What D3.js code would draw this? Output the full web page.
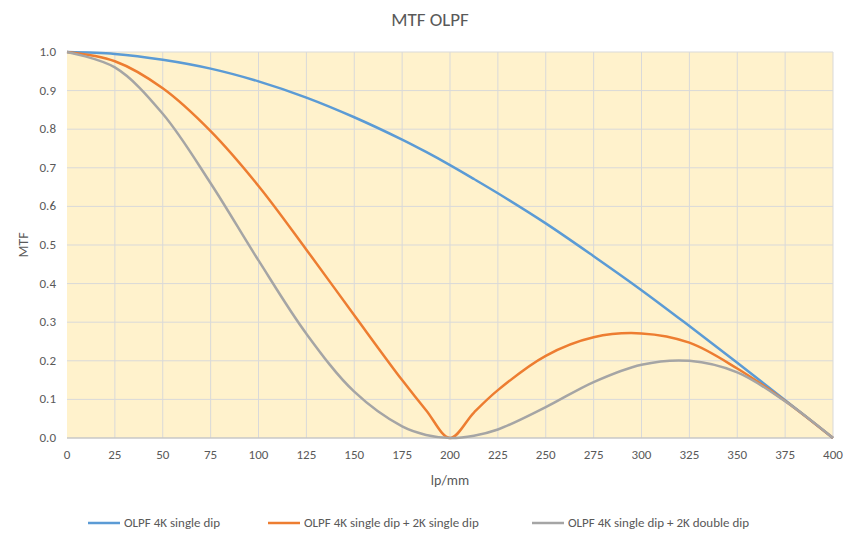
<!DOCTYPE html><html><head><meta charset="utf-8">
<script src="https://cdn.jsdelivr.net/npm/d3@7"></script>
<style>body{margin:0;background:#fff;font-family:Calibri,Carlito,"Liberation Sans",Arial,sans-serif}</style></head><body>
<svg id="c" width="860" height="552"></svg>
<script>
const xs=[0,25,50,75,100,125,150,175,187.5,200,212.5,225,250,275,300,325,350,375,400];
const blue=[1,0.995,0.98,0.957,0.924,0.882,0.831,0.773,0.741,0.707,0.671,0.634,0.556,0.471,0.383,0.290,0.195,0.098,0];
const orange=[1,0.976,0.906,0.795,0.653,0.488,0.318,0.150,0.072,0,0.066,0.124,0.213,0.261,0.271,0.247,0.180,0.096,0];
const gray=[1,0.96,0.84,0.66,0.46,0.27,0.12,0.03,0.008,0,0.006,0.022,0.08,0.145,0.19,0.20,0.17,0.095,0];
const seriesNames=["OLPF 4K single dip","OLPF 4K single dip + 2K single dip","OLPF 4K single dip + 2K double dip"];
const colors=["#5b9bd5","#ed7d31","#a5a5a5"];
const xTicks=d3.range(0,401,25), yTicks=d3.range(0,1.01,0.1);
const svg=d3.select("#c");
const x=d3.scaleLinear().domain([0,400]).range([67,833]);
const y=d3.scaleLinear().domain([0,1]).range([438,52]);
svg.append("rect").attr("x",67).attr("y",52).attr("width",766).attr("height",386).attr("fill","#fff2cc");
const g=svg.append("g").attr("stroke","#d9d9d9").attr("stroke-width",1);
xTicks.forEach(t=>{if(t>0)g.append("line").attr("x1",x(t)).attr("x2",x(t)).attr("y1",52).attr("y2",438);});
yTicks.forEach(t=>g.append("line").attr("x1",67).attr("x2",833).attr("y1",y(t)).attr("y2",y(t)));
svg.append("line").attr("x1",67).attr("x2",833).attr("y1",438).attr("y2",438).attr("stroke","#bfbfbf");
xTicks.forEach(t=>svg.append("text").attr("x",x(t)).attr("y",459).attr("text-anchor","middle").attr("font-size",13).attr("fill","#595959").text(t));
yTicks.forEach(t=>svg.append("text").attr("x",56).attr("y",y(t)+4).attr("text-anchor","end").attr("font-size",13).attr("fill","#595959").text(t.toFixed(1)));
const line=d3.line().x((d,i)=>x(xs[i])).y(d=>y(d)).curve(d3.curveCatmullRom);
[blue,orange,gray].forEach((s,k)=>svg.append("path").attr("d",line(s)).attr("fill","none").attr("stroke",colors[k]).attr("stroke-width",2.5));
svg.append("text").attr("x",430).attr("y",26).attr("text-anchor","middle").attr("font-size",19).attr("fill","#595959").text("MTF OLPF");
svg.append("text").attr("x",450).attr("y",485).attr("text-anchor","middle").attr("font-size",14).attr("fill","#595959").text("lp/mm");
svg.append("text").attr("transform","translate(28,245) rotate(-90)").attr("text-anchor","middle").attr("font-size",14).attr("fill","#595959").text("MTF");
const lx=[88,268,532];
seriesNames.forEach((n,k)=>{svg.append("line").attr("x1",lx[k]).attr("x2",lx[k]+32).attr("y1",523).attr("y2",523).attr("stroke",colors[k]).attr("stroke-width",2.5);
svg.append("text").attr("x",lx[k]+36).attr("y",527).attr("font-size",13).attr("fill","#595959").text(n);});
</script></body></html>
